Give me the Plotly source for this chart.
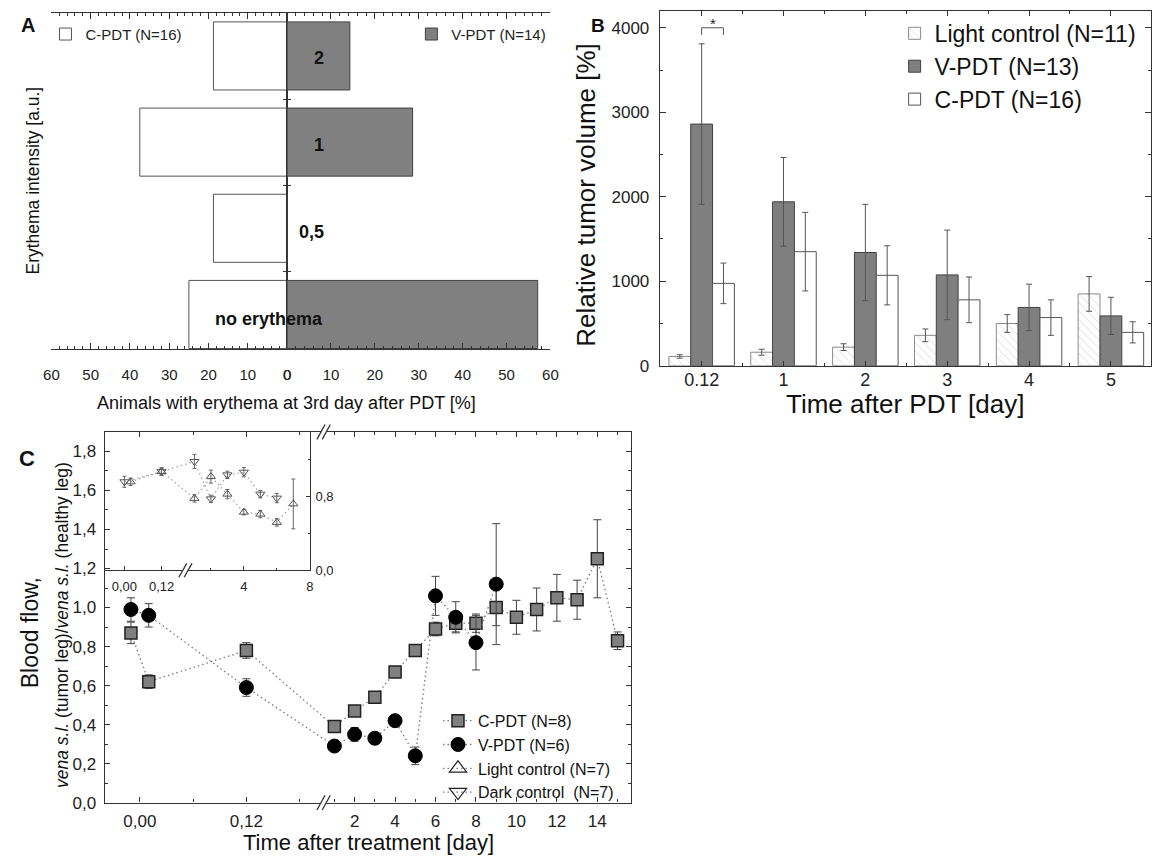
import plotly.graph_objects as go

W, H = 1161, 867          # reference picture size
FONT = "Liberation Sans, Arial, sans-serif"

# ---------------- Panel A data ----------------
A_CATS = ["no erythema", "0,5", "1", "2"]
A_CPDT = [25.0, 18.75, 37.5, 18.75]
A_VPDT = [57.1, 0.0, 28.6, 14.3]

# ---------------- Panel B data ----------------
B_TIMES = ["0.12", "1", "2", "3", "4", "5"]
B_LIGHT = [110, 160, 220, 360, 500, 850]
B_LIGHT_ERR = [20, 35, 40, 75, 105, 205]
B_VPDT = [2860, 1940, 1340, 1075, 690, 590]
B_VPDT_ERR = [950, 525, 570, 530, 275, 220]
B_CPDT = [975, 1350, 1070, 780, 570, 395]
B_CPDT_ERR = [240, 465, 350, 270, 210, 125]

# ---------------- Panel C data (main) ----------------
C_CPDT_T = [-0.01, 0.01, 0.12, 1, 2, 3, 4, 5, 6, 7, 8, 9, 10, 11, 12, 13, 14, 15]
C_CPDT = [0.87, 0.62, 0.78, 0.39, 0.47, 0.54, 0.67, 0.78, 0.89, 0.92, 0.92, 1.00,
          0.95, 0.99, 1.05, 1.04, 1.25, 0.83]
C_CPDT_ERR = [0.055, 0.035, 0.04, 0.015, 0.02, 0.02, 0.012, 0.012, 0.035, 0.045,
              0.047, 0.093, 0.087, 0.11, 0.12, 0.10, 0.20, 0.045]
C_VPDT_T = [-0.01, 0.01, 0.12, 1, 2, 3, 4, 5, 6, 7, 8, 9]
C_VPDT = [0.99, 0.96, 0.59, 0.29, 0.35, 0.33, 0.42, 0.24, 1.06, 0.95, 0.82, 1.12]
C_VPDT_ERR = [0.06, 0.06, 0.045, 0.02, 0.035, 0.03, 0.03, 0.045, 0.10, 0.08, 0.14, 0.31]

# ---------------- Panel C data (inset) ----------------
IN_DARK_T = [0.0, 0.12, 1, 2, 3, 4, 5, 6]
IN_DARK = [0.96, 1.07, 1.18, 0.775, 1.035, 1.064, 0.826, 0.783]
IN_DARK_ERR = [0.06, 0.04, 0.075, 0.04, 0.04, 0.05, 0.04, 0.05]
IN_LIGHT_T = [0.02, 0.12, 1, 2, 3, 4, 5, 6, 7]
IN_LIGHT = [0.96, 1.07, 0.78, 1.016, 0.826, 0.631, 0.61, 0.52, 0.72]
IN_LIGHT_ERR = [0.04, 0.04, 0.04, 0.07, 0.05, 0.03, 0.04, 0.04, 0.27]

# tick definitions for broken time axes
C_MAJOR_T = [0, 0.12, 2, 4, 6, 8, 10, 12, 14]
C_MAJOR_LBL = ["0,00", "0,12", "2", "4", "6", "8", "10", "12", "14"]
C_MINOR_T = [0.06, 0.18, 1, 3, 5, 7, 9, 11, 13, 15]
IN_MAJOR_T = [0, 0.12, 4, 8]
IN_MAJOR_LBL = ["0,00", "0,12", "4", "8"]
IN_MINOR_T = [2, 6]

# broken-axis scale: early times are stretched, late times shifted
C_EARLY_SCALE, C_LATE_SHIFT, C_SPLIT = 43.9, 8.62, 0.3
IN_EARLY_SCALE, IN_LATE_SHIFT = 18.8, 3.25


def c_pos(ts, early=C_EARLY_SCALE, shift=C_LATE_SHIFT):
    return [t * early if t < C_SPLIT else t + shift for t in ts]


def in_pos(ts):
    return c_pos(ts, IN_EARLY_SCALE, IN_LATE_SHIFT)


C_BREAK = 0.207 * C_EARLY_SCALE
IN_BREAK = 0.197 * IN_EARLY_SCALE


def px(x):
    return x / W


def py(y):
    return 1 - y / H


AX = "#333333"
fig = go.Figure()

# ---------- Panel A ----------
a_idx = list(range(len(A_CATS)))
fig.add_trace(go.Bar(y=a_idx, x=A_CPDT, orientation="h", width=0.79,
                     marker=dict(color="white", line=dict(color="#555555", width=1)),
                     name="C-PDT (N=16)", xaxis="x", yaxis="y", legend="legend"))
fig.add_trace(go.Bar(y=a_idx, x=A_VPDT, orientation="h", width=0.79,
                     marker=dict(color="#808080", line=dict(color="#404040", width=1)),
                     name="V-PDT (N=14)", xaxis="x2", yaxis="y2", legend="legend2"))

# ---------- Panel B ----------
b_idx = list(range(len(B_TIMES)))
err_style = dict(type="data", color="#555555", thickness=1, width=3)
fig.add_trace(go.Bar(x=b_idx, y=B_LIGHT, error_y=dict(array=B_LIGHT_ERR, **err_style),
                     marker=dict(color="white", line=dict(color="#8a8a8a", width=1),
                                 pattern=dict(shape="\\", fgcolor="#b5b5b5", bgcolor="white",
                                              size=6, solidity=0.15)),
                     name="Light control (N=11)", xaxis="x3", yaxis="y3", legend="legend3"))
fig.add_trace(go.Bar(x=b_idx, y=B_VPDT, error_y=dict(array=B_VPDT_ERR, **err_style),
                     marker=dict(color="#7f7f7f", line=dict(color="#404040", width=1)),
                     name="V-PDT (N=13)", xaxis="x3", yaxis="y3", legend="legend3"))
fig.add_trace(go.Bar(x=b_idx, y=B_CPDT, error_y=dict(array=B_CPDT_ERR, **err_style),
                     marker=dict(color="white", line=dict(color="#555555", width=1)),
                     name="C-PDT (N=16)", xaxis="x3", yaxis="y3", legend="legend3"))

# ---------- Panel C main ----------
dot_line = dict(color="#7a7a7a", width=1.3, dash="1.5px,3px")
fig.add_trace(go.Scatter(x=c_pos(C_CPDT_T), y=C_CPDT, mode="lines+markers",
                         line=dot_line,
                         marker=dict(symbol="square", size=12, color="#808080",
                                     line=dict(color="#222222", width=1.5)),
                         error_y=dict(type="data", array=C_CPDT_ERR, color="#444444",
                                      thickness=1, width=4),
                         name="C-PDT (N=8)", xaxis="x4", yaxis="y4", legend="legend4"))
fig.add_trace(go.Scatter(x=c_pos(C_VPDT_T), y=C_VPDT, mode="lines+markers",
                         line=dot_line,
                         marker=dict(symbol="circle", size=14, color="black",
                                     line=dict(color="black", width=1)),
                         error_y=dict(type="data", array=C_VPDT_ERR, color="#444444",
                                      thickness=1, width=4),
                         name="V-PDT (N=6)", xaxis="x4", yaxis="y4", legend="legend4"))
# legend-only entries for the inset series (large symbols like the reference legend)
fig.add_trace(go.Scatter(x=[None], y=[None], mode="lines+markers", line=dot_line,
                         marker=dict(symbol="triangle-up-open", size=15, color="#222222",
                                     line=dict(width=1.2)),
                         name="Light control (N=7)", xaxis="x4", yaxis="y4", legend="legend4"))
fig.add_trace(go.Scatter(x=[None], y=[None], mode="lines+markers", line=dot_line,
                         marker=dict(symbol="triangle-down-open", size=15, color="#222222",
                                     line=dict(width=1.2)),
                         name="Dark control  (N=7)", xaxis="x4", yaxis="y4", legend="legend4"))

# ---------- Panel C inset ----------
in_line = dict(color="#999999", width=1.1, dash="1.5px,3px")
fig.add_trace(go.Scatter(x=in_pos(IN_DARK_T), y=IN_DARK, mode="lines+markers", line=in_line,
                         marker=dict(symbol="triangle-down-open", size=8, color="#555555",
                                     line=dict(width=1)),
                         error_y=dict(type="data", array=IN_DARK_ERR, color="#666666",
                                      thickness=1, width=2),
                         showlegend=False, xaxis="x5", yaxis="y5"))
fig.add_trace(go.Scatter(x=in_pos(IN_LIGHT_T), y=IN_LIGHT, mode="lines+markers", line=in_line,
                         marker=dict(symbol="triangle-up-open", size=8, color="#555555",
                                     line=dict(width=1)),
                         error_y=dict(type="data", array=IN_LIGHT_ERR, color="#666666",
                                      thickness=1, width=2),
                         showlegend=False, xaxis="x5", yaxis="y5"))

# ---------- axes ----------
base_ax = dict(showline=True, linecolor=AX, linewidth=1.3, ticks="inside",
               tickcolor=AX, zeroline=False, showgrid=False,
               tickfont=dict(family=FONT, size=15, color="#222222"))

A_Y = [py(353), py(13)]
fig.update_layout(
    xaxis=dict(base_ax, domain=[px(44), px(283)], range=[60, 0], anchor="y",
               mirror="ticks", dtick=10, ticklen=6, ticklabelstandoff=12,
               minor=dict(dtick=2, ticklen=3, ticks="inside", tickcolor=AX)),
    yaxis=dict(base_ax, domain=A_Y, range=[-0.4, 3.5], anchor="x", side="right",
               tickvals=[0.5, 1.5, 2.5], ticklen=4, showticklabels=False),
    xaxis2=dict(base_ax, domain=[px(283), px(550)], range=[0, 60], anchor="y2",
                mirror="ticks", dtick=10, ticklen=6, ticklabelstandoff=12,
                minor=dict(dtick=2, ticklen=3, ticks="inside", tickcolor=AX)),
    yaxis2=dict(base_ax, domain=A_Y, range=[-0.4, 3.5], anchor="x2", side="left",
                tickvals=[0.5, 1.5, 2.5], ticklen=4, showticklabels=False),
    xaxis3=dict(base_ax, domain=[px(661), px(1159)], range=[-0.51, 5.49], anchor="y3",
                mirror="ticks", tickvals=b_idx, ticktext=B_TIMES, ticklen=5,
                ticklabelstandoff=-2, tickfont=dict(family=FONT, size=18, color="#222"),
                minor=dict(tickvals=[i + 0.5 for i in b_idx[:-1]], ticklen=3,
                           ticks="inside", tickcolor=AX)),
    yaxis3=dict(base_ax, domain=[py(370), py(11)], range=[0, 4200], anchor="x3",
                mirror="ticks", dtick=1000, ticklen=6, ticklabelstandoff=6,
                tickfont=dict(family=FONT, size=17, color="#222"),
                minor=dict(dtick=500, ticklen=3, ticks="inside", tickcolor=AX)),
    xaxis4=dict(base_ax, domain=[px(98), px(632)], range=[-1.74, 24.3], anchor="y4",
                mirror="ticks", tickvals=c_pos(C_MAJOR_T), ticktext=C_MAJOR_LBL,
                ticklen=5, ticklabelstandoff=3,
                tickfont=dict(family=FONT, size=17, color="#222"),
                minor=dict(tickvals=c_pos(C_MINOR_T), ticklen=3, ticks="inside",
                           tickcolor=AX)),
    yaxis4=dict(base_ax, domain=[py(812), py(437)], range=[0, 1.9], anchor="x4",
                mirror="ticks", dtick=0.2, tickformat=".1f", ticklen=5,
                ticklabelstandoff=4, tickfont=dict(family=FONT, size=17, color="#222"),
                minor=dict(dtick=0.1, ticklen=3, ticks="inside", tickcolor=AX)),
    xaxis5=dict(base_ax, domain=[px(98), px(306)], range=[-1.2, 11.25], anchor="y5",
                tickvals=in_pos(IN_MAJOR_T), ticktext=IN_MAJOR_LBL, ticklen=4,
                ticklabelstandoff=4, tickfont=dict(family=FONT, size=13, color="#222"),
                minor=dict(tickvals=in_pos(IN_MINOR_T), ticklen=2, ticks="inside",
                           tickcolor=AX)),
    yaxis5=dict(base_ax, domain=[py(577), py(437)], range=[0, 1.5], anchor="x5",
                side="right", dtick=0.8, tickformat=".1f", ticklen=4,
                ticklabelstandoff=2, tickfont=dict(family=FONT, size=13, color="#222"),
                minor=dict(dtick=0.4, ticklen=2, ticks="inside", tickcolor=AX)),
)

# ---------- legends ----------
leg_common = dict(xanchor="left", yanchor="top", bgcolor="rgba(0,0,0,0)",
                  borderwidth=0, tracegroupgap=0)
fig.update_layout(
    legend=dict(leg_common, x=px(38), y=py(18), font=dict(family=FONT, size=15, color="#222")),
    legend2=dict(leg_common, x=px(409), y=py(18), font=dict(family=FONT, size=15, color="#222")),
    legend3=dict(leg_common, x=px(899), y=py(12), font=dict(family=FONT, size=23, color="#111")),
    legend4=dict(leg_common, x=px(436), y=py(712), font=dict(family=FONT, size=16, color="#111")),
)

# ---------- annotations ----------
ann = []


def label(text, x, y, size, bold=False, angle=0, xanchor="center", **kw):
    t = f"<b>{text}</b>" if bold else text
    ann.append(dict(text=t, x=px(x), y=py(y), xref="paper", yref="paper",
                    xanchor=xanchor, yanchor="middle", showarrow=False,
                    textangle=angle, font=dict(family=FONT, size=size, color="#111"), **kw))


label("A", 20, 25, 20, bold=True)
label("B", 598, 26, 19, bold=True)
label("C", 19, 464, 22, bold=True)

A_LABEL_POS = {"2": (315, 59), "1": (315, 147), "0,5": (308, 235), "no erythema": (265, 323)}
for cat in A_CATS:
    lx, ly = A_LABEL_POS[cat]
    label(cat, lx, ly, 18, bold=True)

label("Erythema intensity [a.u.]", 25, 183, 17.5, angle=-90)
label("Animals with erythema at 3rd day after PDT [%]", 282, 408, 18)

label("Relative tumor volume [%]", 586, 197, 26, angle=-90)
label("Time after PDT [day]", 910, 409, 26)

label("Blood flow,", 22, 640, 23, angle=-90)
label("<i>vena s.l.</i> (tumor leg)/<i>vena s.l.</i> (healthy leg)", 54, 632, 17.5, angle=-90)
label("Time after treatment [day]", 366, 852, 22)

# significance bracket in panel B (V-PDT vs C-PDT at first time point)
BARGAP = 0.2
bar_w = (1 - BARGAP) / 3
ann.append(dict(text="*", x=bar_w / 2, y=4000, xref="x3", yref="y3", showarrow=False,
                yanchor="bottom", yshift=-6, font=dict(family=FONT, size=15, color="#222")))
fig.update_layout(annotations=ann)

shapes = [dict(type="path", xref="x3", yref="y3",
               path=f"M 0,3915 L 0,4000 L {bar_w},4000 L {bar_w},3915",
               line=dict(color="#555555", width=1))]


def break_marks(xref, yref, ub, half_w, gap, yh, sides):
    out = []
    for yd in sides:
        out.append(dict(type="rect", xref=xref, yref=yref, x0=ub - gap, x1=ub + gap,
                        y0=yd - yh * 0.35, y1=yd + yh * 0.35, fillcolor="white",
                        line=dict(width=0), layer="above"))
        for c in (ub - gap, ub + gap):
            out.append(dict(type="line", xref=xref, yref=yref, x0=c - half_w, x1=c + half_w,
                            y0=yd - yh, y1=yd + yh, line=dict(color=AX, width=1.3)))
    return out


shapes += break_marks("x4", "y4 domain", C_BREAK, 0.2, 0.13, 0.02, (0, 1))
shapes += break_marks("x5", "y5 domain", IN_BREAK, 0.24, 0.16, 0.05, (0,))
fig.update_layout(shapes=shapes)

fig.update_layout(
    width=W, height=H, margin=dict(l=0, r=0, t=0, b=0),
    paper_bgcolor="white", plot_bgcolor="rgba(0,0,0,0)",
    barmode="group", bargap=BARGAP, bargroupgap=0,
    separators=",.",
    font=dict(family=FONT, color="#222"),
)

# place the figure at the page origin (no default body margin), no mode bar
fig.write_html("out.html",
               config={"displayModeBar": False},
               post_script="document.body.style.margin='0px';"
                           "document.body.style.overflow='hidden';")
